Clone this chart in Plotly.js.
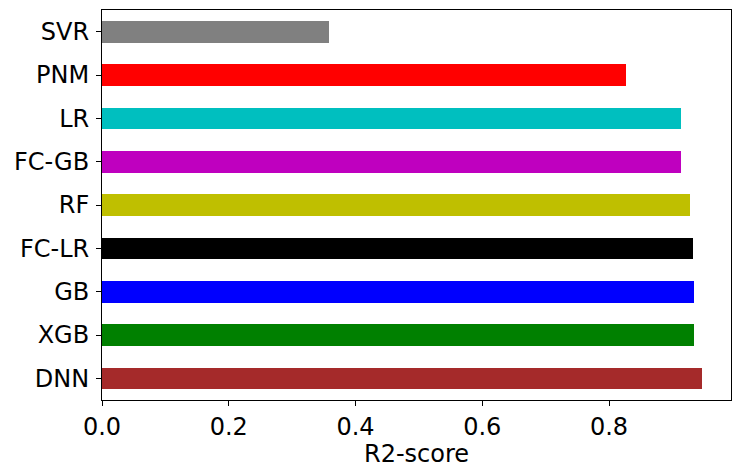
<!DOCTYPE html>
<html>
<head>
<meta charset="utf-8">
<script src="https://cdn.plot.ly/plotly-3.0.1.min.js"></script>
<style>html,body{margin:0;padding:0;background:#fff;}#chart{width:733px;height:468px;}</style>
</head>
<body>
<div id="chart"></div>
<script>
const models = ["DNN", "XGB", "GB", "FC-LR", "RF", "FC-GB", "LR", "PNM", "SVR"];
const r2Scores = [0.947, 0.934, 0.934, 0.932, 0.928, 0.914, 0.914, 0.827, 0.358];
const barColors = ["#a52a2a", "#008000", "#0000ff", "#000000", "#bfbf00", "#bf00bf", "#00bfbf", "#ff0000", "#808080"];
const xTicks = [0, 0.2, 0.4, 0.6, 0.8];
const xTickLabels = ["0.0", "0.2", "0.4", "0.6", "0.8"];

const trace = {
  type: "bar",
  orientation: "h",
  y: models,
  x: r2Scores,
  width: 0.5,
  marker: {color: barColors, line: {width: 0}},
  hoverinfo: "x+y"
};

const layout = {
  width: 733,
  height: 468,
  margin: {l: 102, r: 2, t: 10, b: 68},
  paper_bgcolor: "#fff",
  plot_bgcolor: "#fff",
  font: {family: "DejaVu Sans", size: 24, color: "#000"},
  showlegend: false,
  bargap: 0,
  xaxis: {
    range: [0, 0.9925],
    tickvals: xTicks,
    ticktext: xTickLabels,
    ticks: "outside",
    ticklen: 5,
    tickwidth: 1,
    tickcolor: "#000",
    showline: true,
    linecolor: "#000",
    linewidth: 1,
    mirror: true,
    showgrid: false,
    zeroline: false,
    tickfont: {family: "DejaVu Sans", size: 24},
    title: {text: "R2-score", font: {family: "DejaVu Sans", size: 24}, standoff: 3}
  },
  yaxis: {
    type: "category",
    range: [-0.5, 8.5],
    ticks: "outside",
    ticklen: 5,
    tickwidth: 1,
    tickcolor: "#000",
    showline: true,
    linecolor: "#000",
    linewidth: 1,
    mirror: true,
    showgrid: false,
    zeroline: false,
    ticklabelstandoff: 2,
    tickfont: {family: "DejaVu Sans", size: 24}
  }
};

Plotly.newPlot("chart", [trace], layout, {displayModeBar: false, staticPlot: true});
</script>
</body>
</html>
